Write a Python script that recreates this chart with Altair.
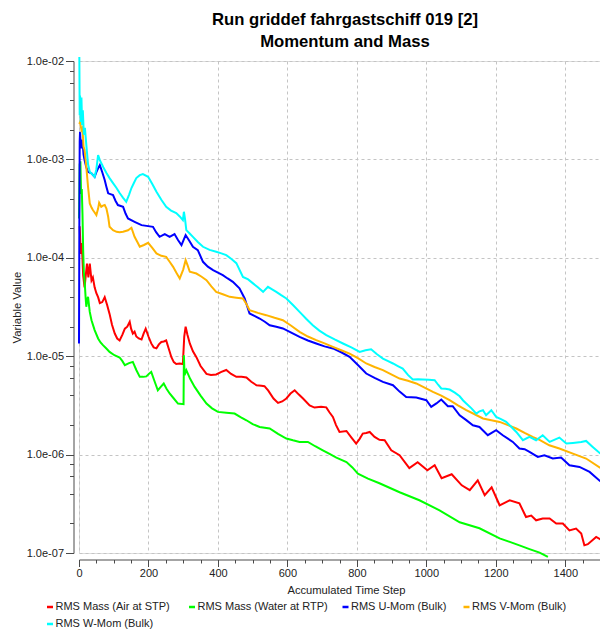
import altair as alt
import pandas as pd

# ---- data (x = accumulated time step, y = log10 of value) ----
air_steps = [2, 5, 8, 12, 16, 20, 23, 27, 31, 36, 40, 45, 50, 55, 60, 67, 74, 81, 88, 95, 103, 110, 117, 125, 132, 139, 146, 150, 155, 160, 165, 172, 180, 186, 192, 200, 208, 215, 223, 230, 237, 244, 251, 258, 266, 273, 280, 290, 299, 303, 307, 312, 319, 328, 338, 350, 367, 380, 395, 410, 424, 438, 453, 468, 482, 496, 511, 525, 534, 545, 560, 573, 585, 597, 609, 621, 633, 645, 664, 678, 697, 712, 721, 731, 740, 750, 770, 785, 798, 808, 817, 827, 837, 851, 865, 880, 899, 923, 951, 975, 1003, 1024, 1044, 1073, 1102, 1125, 1148, 1168, 1188, 1211, 1240, 1268, 1287, 1302, 1316, 1335, 1355, 1374, 1393, 1412, 1431, 1446, 1455, 1465, 1489, 1503]
air_log = [-3.68, -3.96, -3.85, -4.18, -4.30, -4.16, -4.06, -4.20, -4.06, -4.23, -4.20, -4.30, -4.36, -4.40, -4.46, -4.45, -4.40, -4.48, -4.57, -4.68, -4.77, -4.82, -4.84, -4.78, -4.72, -4.70, -4.65, -4.72, -4.77, -4.75, -4.80, -4.82, -4.83, -4.77, -4.72, -4.80, -4.87, -4.91, -4.92, -4.88, -4.855, -4.85, -4.84, -4.92, -5.01, -5.06, -5.08, -5.075, -5.08, -4.80, -4.70, -4.78, -4.87, -4.95, -5.01, -5.10, -5.18, -5.19, -5.186, -5.16, -5.14, -5.18, -5.21, -5.21, -5.217, -5.26, -5.295, -5.30, -5.305, -5.35, -5.43, -5.475, -5.46, -5.43, -5.38, -5.346, -5.39, -5.43, -5.50, -5.522, -5.515, -5.52, -5.57, -5.617, -5.70, -5.77, -5.76, -5.83, -5.888, -5.84, -5.786, -5.78, -5.77, -5.82, -5.85, -5.854, -5.956, -6.006, -6.138, -6.077, -6.159, -6.108, -6.240, -6.20, -6.312, -6.362, -6.261, -6.413, -6.332, -6.515, -6.464, -6.495, -6.634, -6.62, -6.668, -6.65, -6.65, -6.70, -6.70, -6.77, -6.752, -6.803, -6.922, -6.91, -6.837, -6.864]

water_steps = [0, 2, 4, 6, 8, 10, 12, 14, 16, 19, 21, 24, 26, 31, 36, 45, 55, 62, 69, 78, 88, 102, 117, 125, 132, 144, 155, 165, 175, 185, 194, 201, 208, 218, 227, 236, 244, 252, 261, 273, 285, 301, 302, 304, 309, 320, 333, 350, 367, 383, 400, 424, 448, 465, 482, 500, 520, 549, 573, 597, 616, 635, 659, 680, 702, 720, 741, 770, 787, 803, 832, 865, 923, 980, 1038, 1096, 1153, 1211, 1268, 1297, 1326, 1350]
water_log = [-3.60, -3.05, -3.02, -3.35, -3.30, -3.55, -3.92, -4.15, -4.227, -4.40, -4.498, -4.42, -4.397, -4.55, -4.634, -4.735, -4.82, -4.86, -4.888, -4.92, -4.956, -4.99, -5.013, -5.05, -5.091, -5.07, -5.058, -5.14, -5.21, -5.21, -5.205, -5.18, -5.159, -5.26, -5.346, -5.31, -5.278, -5.33, -5.379, -5.43, -5.481, -5.488, -4.99, -5.193, -5.142, -5.23, -5.312, -5.40, -5.481, -5.53, -5.566, -5.575, -5.583, -5.62, -5.651, -5.69, -5.719, -5.735, -5.79, -5.837, -5.855, -5.871, -5.871, -5.915, -5.956, -5.99, -6.03, -6.075, -6.13, -6.193, -6.244, -6.291, -6.383, -6.464, -6.566, -6.688, -6.749, -6.851, -6.922, -6.96, -6.996, -7.04]

u_steps = [0, 1, 2, 3, 5, 7, 10, 13, 16, 21, 26, 31, 36, 45, 50, 55, 60, 67, 74, 79, 84, 98, 105, 112, 127, 134, 141, 160, 180, 213, 222, 232, 247, 261, 275, 285, 295, 301, 307, 318, 328, 342, 357, 371, 386, 400, 414, 428, 443, 462, 477, 491, 505, 520, 535, 549, 568, 587, 611, 635, 659, 683, 707, 731, 755, 779, 803, 827, 851, 875, 904, 923, 942, 971, 1000, 1014, 1029, 1043, 1062, 1076, 1096, 1115, 1134, 1153, 1177, 1201, 1220, 1249, 1268, 1283, 1297, 1321, 1340, 1364, 1388, 1412, 1441, 1470, 1501]
u_log = [-4.87, -3.68, -2.82, -2.72, -2.86, -2.888, -2.80, -2.95, -3.007, -3.08, -3.126, -3.135, -3.142, -3.177, -3.13, -3.091, -3.058, -3.13, -3.21, -3.28, -3.345, -3.363, -3.42, -3.464, -3.482, -3.55, -3.60, -3.634, -3.668, -3.685, -3.74, -3.787, -3.759, -3.787, -3.759, -3.82, -3.871, -3.82, -3.769, -3.83, -3.888, -3.922, -4.041, -4.09, -4.125, -4.15, -4.176, -4.21, -4.244, -4.311, -4.413, -4.566, -4.59, -4.617, -4.65, -4.685, -4.70, -4.718, -4.76, -4.803, -4.84, -4.871, -4.90, -4.921, -4.96, -5.007, -5.09, -5.176, -5.22, -5.261, -5.295, -5.36, -5.414, -5.42, -5.447, -5.515, -5.48, -5.44, -5.508, -5.508, -5.60, -5.65, -5.702, -5.719, -5.803, -5.752, -5.803, -5.871, -5.938, -5.945, -5.973, -6.024, -6.007, -6.04, -6.03, -6.108, -6.125, -6.176, -6.271]

v_steps = [1, 3, 5, 7, 10, 13, 16, 19, 21, 26, 31, 36, 40, 45, 50, 55, 58, 64, 69, 74, 79, 84, 88, 98, 108, 117, 127, 141, 151, 160, 168, 175, 187, 199, 211, 223, 237, 251, 261, 271, 280, 290, 300, 307, 313, 319, 338, 352, 367, 381, 395, 414, 434, 453, 472, 482, 491, 515, 539, 563, 587, 611, 635, 659, 683, 707, 731, 755, 779, 803, 827, 851, 875, 899, 923, 947, 971, 995, 1019, 1043, 1067, 1091, 1115, 1139, 1163, 1187, 1211, 1235, 1259, 1283, 1306, 1326, 1354, 1383, 1422, 1460, 1501]
v_log = [-2.64, -2.62, -2.66, -2.70, -2.68, -2.87, -2.905, -3.00, -3.075, -3.278, -3.447, -3.49, -3.515, -3.54, -3.566, -3.50, -3.441, -3.482, -3.47, -3.464, -3.50, -3.583, -3.685, -3.72, -3.736, -3.74, -3.736, -3.72, -3.695, -3.787, -3.84, -3.888, -3.87, -3.848, -3.90, -3.956, -3.98, -3.99, -4.04, -4.092, -4.15, -4.21, -4.12, -4.024, -4.08, -4.142, -4.16, -4.19, -4.227, -4.29, -4.346, -4.37, -4.397, -4.405, -4.413, -4.47, -4.532, -4.56, -4.583, -4.61, -4.634, -4.69, -4.753, -4.80, -4.837, -4.87, -4.905, -4.94, -4.973, -5.02, -5.074, -5.11, -5.142, -5.185, -5.227, -5.25, -5.277, -5.32, -5.363, -5.40, -5.447, -5.50, -5.549, -5.59, -5.633, -5.65, -5.668, -5.70, -5.735, -5.78, -5.82, -5.85, -5.905, -5.938, -5.99, -6.04, -6.135]

w_steps = [1, 2, 3, 5, 7, 9, 11, 14, 17, 21, 26, 31, 38, 45, 50, 55, 60, 70, 79, 88, 98, 108, 117, 127, 136, 144, 151, 158, 165, 175, 184, 199, 211, 223, 237, 251, 265, 280, 290, 299, 302, 305, 309, 318, 328, 342, 357, 376, 395, 410, 424, 438, 453, 472, 487, 501, 515, 530, 544, 556, 568, 582, 597, 616, 635, 654, 673, 692, 712, 736, 760, 784, 808, 825, 841, 858, 875, 890, 904, 918, 932, 947, 961, 976, 990, 1007, 1024, 1034, 1043, 1055, 1067, 1082, 1096, 1106, 1115, 1130, 1144, 1153, 1163, 1172, 1187, 1201, 1215, 1230, 1245, 1259, 1278, 1297, 1316, 1335, 1355, 1383, 1403, 1422, 1446, 1460, 1479, 1501]
w_log = [-1.96, -2.55, -2.35, -2.62, -2.37, -2.65, -2.50, -2.75, -2.68, -2.85, -3.05, -3.126, -3.15, -3.177, -3.10, -2.956, -3.007, -3.08, -3.139, -3.19, -3.241, -3.29, -3.342, -3.39, -3.431, -3.36, -3.291, -3.24, -3.19, -3.16, -3.149, -3.177, -3.25, -3.329, -3.41, -3.482, -3.52, -3.546, -3.58, -3.617, -3.532, -3.60, -3.719, -3.75, -3.787, -3.84, -3.888, -3.92, -3.939, -3.955, -3.973, -4.01, -4.054, -4.194, -4.22, -4.26, -4.30, -4.346, -4.295, -4.32, -4.346, -4.38, -4.413, -4.48, -4.549, -4.62, -4.685, -4.74, -4.786, -4.83, -4.871, -4.91, -4.956, -4.94, -4.929, -4.98, -5.024, -5.05, -5.074, -5.10, -5.125, -5.19, -5.237, -5.235, -5.237, -5.24, -5.244, -5.29, -5.328, -5.33, -5.339, -5.37, -5.407, -5.45, -5.481, -5.53, -5.583, -5.56, -5.549, -5.60, -5.549, -5.617, -5.64, -5.668, -5.72, -5.77, -5.854, -5.82, -5.854, -5.803, -5.871, -5.827, -5.888, -5.881, -5.871, -5.861, -5.922, -5.99]

series_names = ["RMS Mass (Air at STP)", "RMS Mass (Water at RTP)", "RMS U-Mom (Bulk)",
                "RMS V-Mom (Bulk)", "RMS W-Mom (Bulk)"]
series_colors = ["#ff0000", "#00ff00", "#0000ff", "#ffb400", "#00ffff"]
series_data = [(air_steps, air_log), (water_steps, water_log), (u_steps, u_log),
               (v_steps, v_log), (w_steps, w_log)]

# legend entry placement (pixels relative to the plot area's top-left corner)
legend_x = [-34.5, 107.5, 261.0, 382.0, -34.5]
legend_y = [540.5, 540.5, 540.5, 540.5, 557.5]

x_tick_values = list(range(0, 1501, 50))
y_tick_values = [m * 10.0 ** e for e in range(-7, -2) for m in (1, 2, 4, 6, 8)] + [1e-2]

major_x = "datum.value % 200 == 0"
major_y = "abs(log(datum.value) / LN10 - round(log(datum.value) / LN10)) < 0.01"

FONT = "Liberation Sans"
AXIS_COLOR = "#4a4a4a"

x_axis = alt.Axis(
    title="Accumulated Time Step",
    values=x_tick_values,
    format="d",
    labelExpr=f"({major_x}) ? datum.label : ''",
    tickSize=7,
    tickDash={"condition": {"test": major_x, "value": [20, 1]}, "value": [3.5, 20]},
    grid=True,
    gridOpacity={"condition": {"test": major_x, "value": 1}, "value": 0},
    gridDash=[3, 3],
    gridColor="#c4c4c4",
    gridWidth=1,
    offset=6.5,
    domainColor=AXIS_COLOR,
    tickColor=AXIS_COLOR,
    labelColor="#222222",
    titleColor="#222222",
    labelFont=FONT,
    titleFont=FONT,
    labelFontSize=11,
    titleFontSize=11.2,
    titleFontWeight="normal",
    labelPadding=1,
    titlePadding=5.5,
    titleX=267,
    labelFlush=False,
    labelOverlap=False,
)

y_axis = alt.Axis(
    title="Variable Value",
    values=y_tick_values,
    labelExpr=f"({major_y}) ? '1.0e-0' + round(-log(datum.value) / LN10) : ''",
    tickSize=8,
    tickDash={"condition": {"test": major_y, "value": [20, 1]}, "value": [4, 20]},
    grid=True,
    gridOpacity={"condition": {"test": major_y, "value": 1}, "value": 0},
    gridDash=[3, 3],
    gridColor="#c4c4c4",
    gridWidth=1,
    offset=5.5,
    domainColor=AXIS_COLOR,
    tickColor=AXIS_COLOR,
    labelColor="#222222",
    titleColor="#222222",
    labelFont=FONT,
    titleFont=FONT,
    labelFontSize=11,
    titleFontSize=11.3,
    titleFontWeight="normal",
    labelPadding=2,
    titlePadding=4,
    labelFlush=False,
    labelOverlap=False,
)

x_enc = alt.X("step:Q", scale=alt.Scale(domain=[0, 1500], nice=False, zero=False), axis=x_axis)
y_enc = alt.Y("value:Q", scale=alt.Scale(type="log", domain=[1e-7, 1e-2], nice=False), axis=y_axis)

layers = []
for i, (name, (st, lg)) in enumerate(zip(series_names, series_data)):
    sub = pd.DataFrame({"step": st, "value": [10 ** v for v in lg], "series": name})
    legend = alt.Legend(
        title=None,
        orient="none",
        legendX=legend_x[i],
        legendY=legend_y[i],
        symbolType="stroke",
        symbolSize=36,
        symbolStrokeWidth=2.5,
        labelFont=FONT,
        labelFontSize=11,
        labelColor="#222222",
        labelOffset=0,
        labelLimit=0,
    )
    layers.append(
        alt.Chart(sub)
        .mark_line(strokeWidth=2, clip=False)
        .encode(
            x=x_enc,
            y=y_enc,
            color=alt.Color("series:N",
                            scale=alt.Scale(domain=[name], range=[series_colors[i]]),
                            legend=legend),
        )
    )

chart = (
    alt.layer(*layers)
    .resolve_scale(color="independent")
    .resolve_legend(color="independent")
    .properties(
        width=521,
        height=492,
        padding={"left": 71, "top": 53, "right": 0, "bottom": 76},
        autosize=alt.AutoSizeParams(type="none"),
        title=alt.TitleParams(
            text=["Run griddef fahrgastschiff 019 [2]", "Momentum and Mass"],
            font=FONT,
            fontSize=16.7,
            fontWeight="bold",
            color="#000000",
            anchor="middle",
            frame="group",
            lineHeight=22,
            dx=5.5,
            dy=1.5,
        ),
    )
    .configure_view(stroke=None)
    .configure(background="white")
)

chart.save("out.html", embed_options={"renderer": "svg", "actions": False})
